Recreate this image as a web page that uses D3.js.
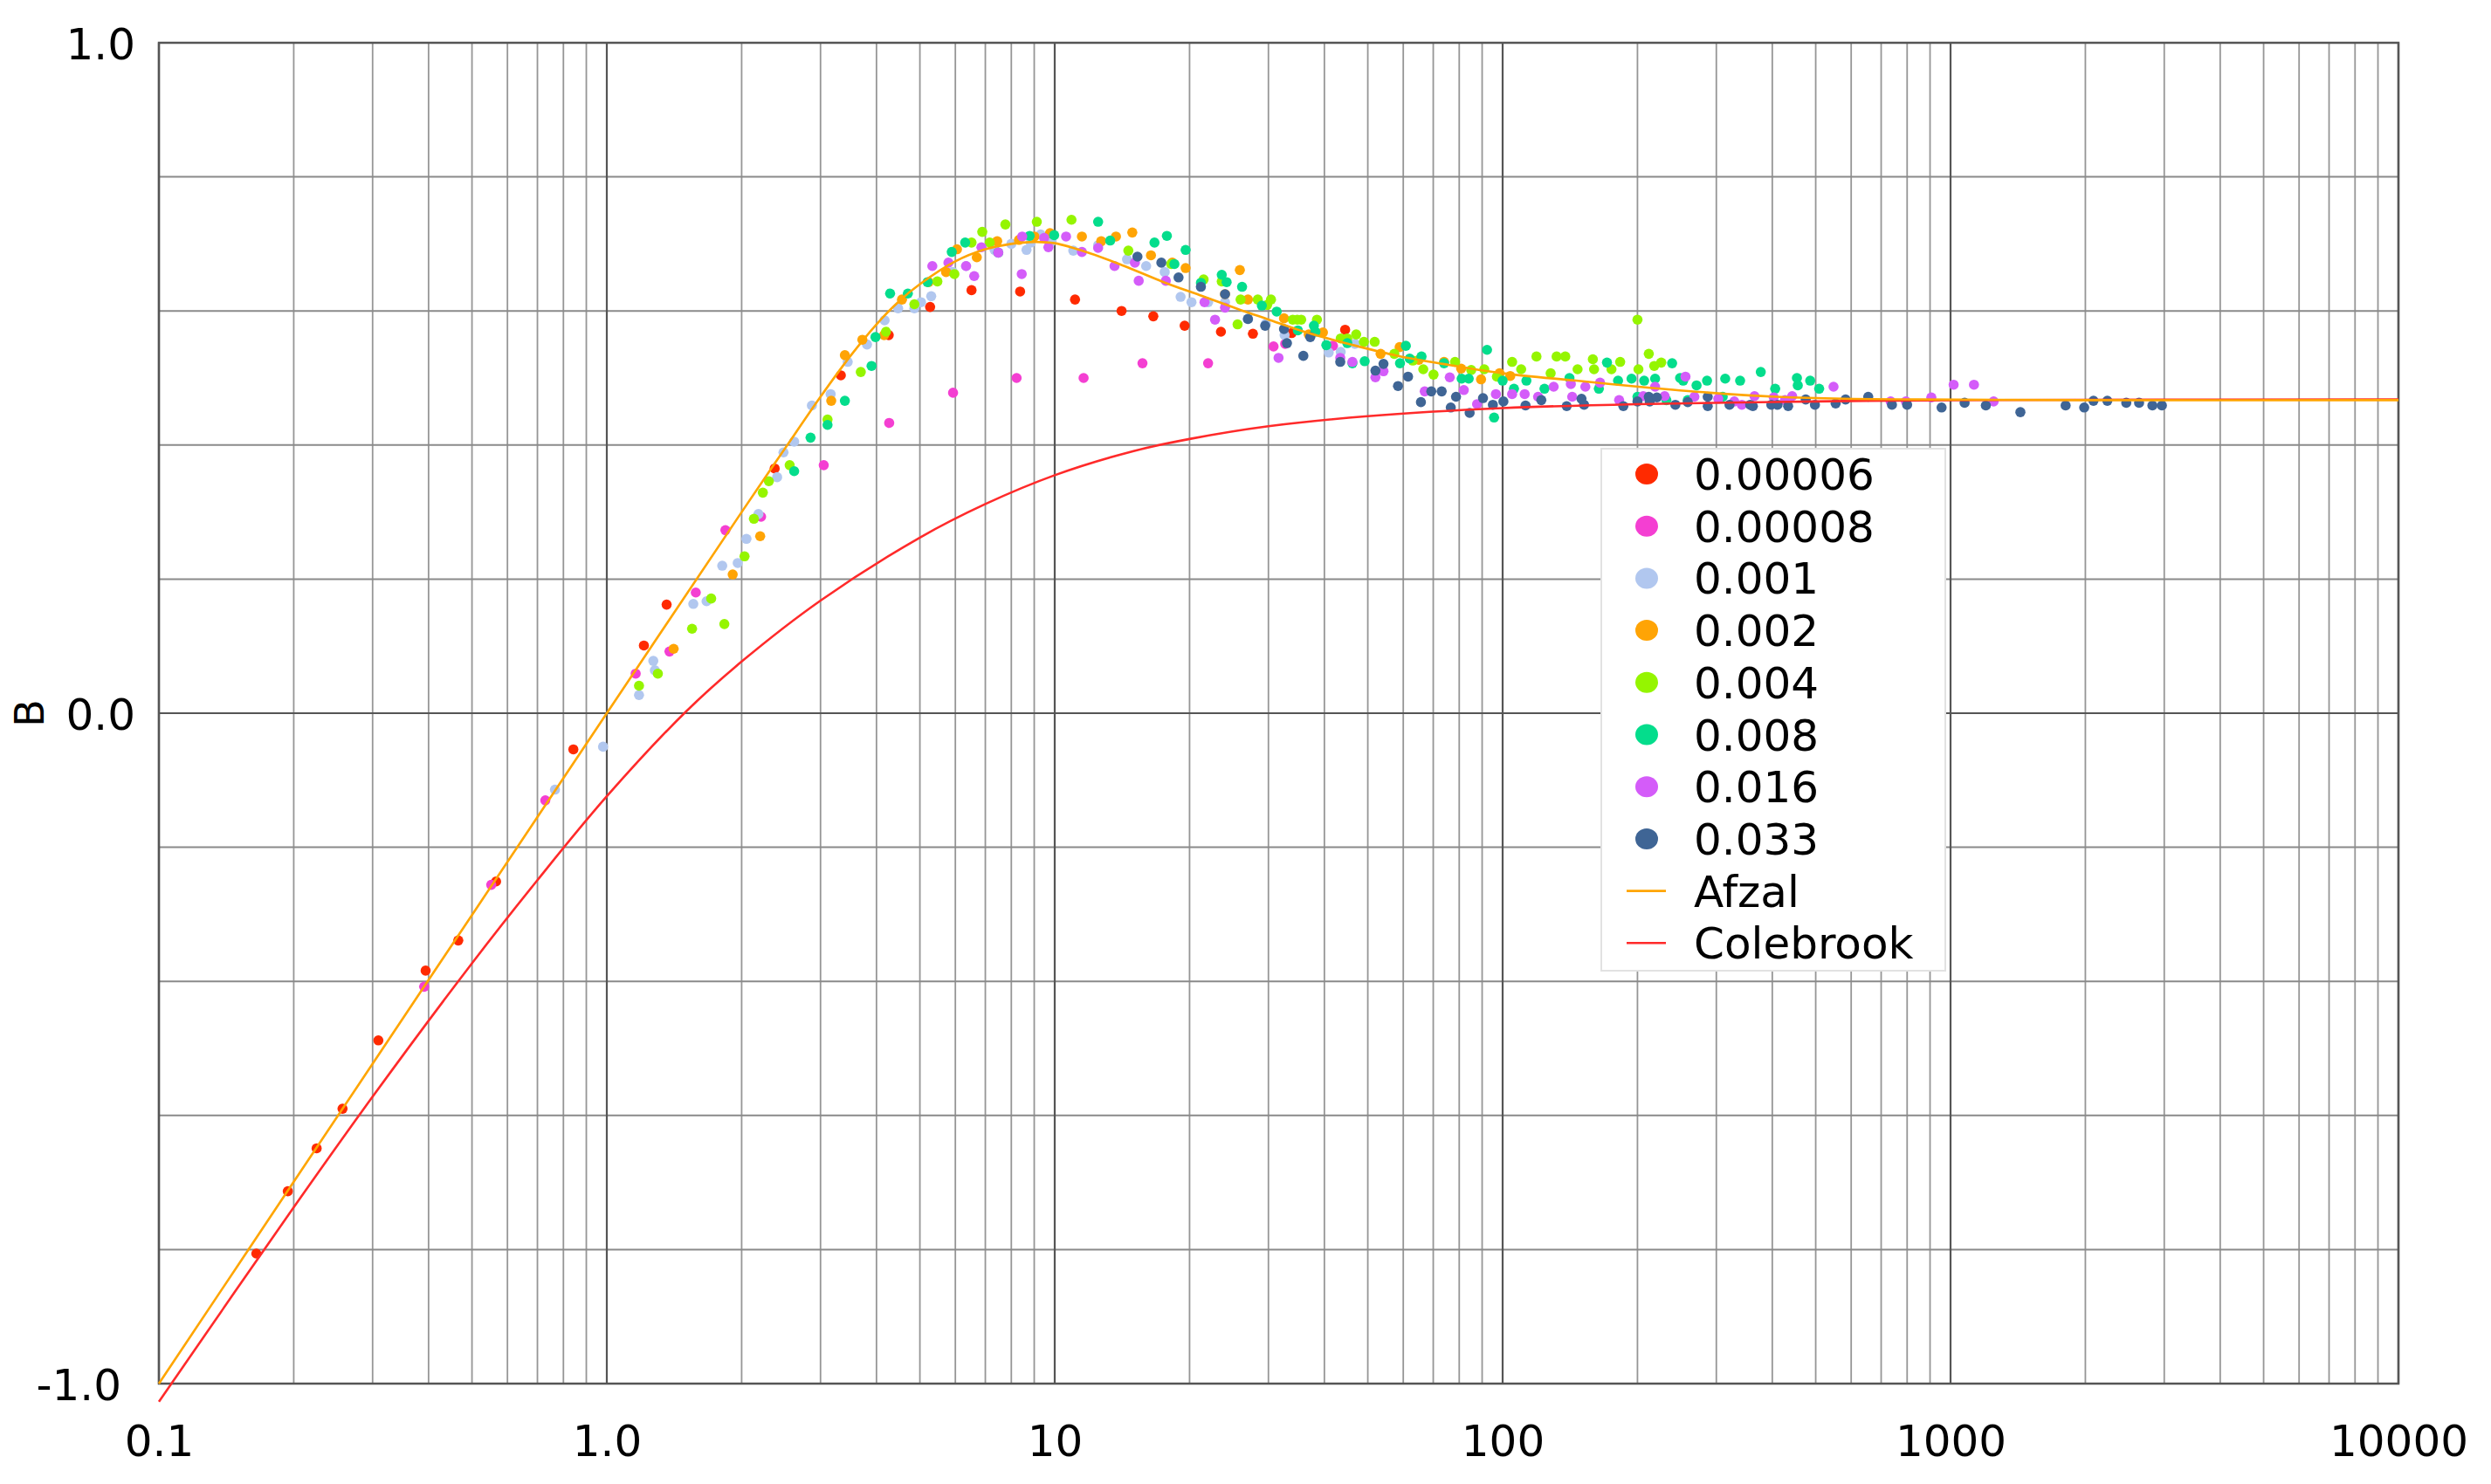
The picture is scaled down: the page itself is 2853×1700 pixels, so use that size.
<!DOCTYPE html>
<html>
<head>
<meta charset="utf-8">
<script src="https://cdn.jsdelivr.net/npm/d3@7"></script>
<style>
  html, body { margin: 0; padding: 0; background: #fff; }
  svg { display: block; }
  text { font-family: "DejaVu Sans", sans-serif; fill: #000; }
</style>
</head>
<body>
<svg id="chart" width="2853" height="1700"></svg>
<script>
// ---------- data ----------
const xTickValues = [0.1, 1, 10, 100, 1000, 10000];
const xTickLabels = ["0.1", "1.0", "10", "100", "1000", "10000"];
const yTickValues = [-1, 0, 1];
const yTickLabels = ["-1.0", "0.0", "1.0"];
const yGridValues = [-1, -0.8, -0.6, -0.4, -0.2, 0, 0.2, 0.4, 0.6, 0.8, 1];
const yAxisTitle = "B";

const seriesNames = ["0.00006", "0.00008", "0.001", "0.002", "0.004", "0.008", "0.016", "0.033"];
const seriesColors = ["#ff2a00", "#f43fd2", "#b1c7ef", "#ffa405", "#95f500", "#04dd8c", "#d45cf9", "#3f6595"];

const s00006 = [[0.165,-0.806],[0.194,-0.713],[0.225,-0.649],[0.257,-0.590],[0.309,-0.488],[0.394,-0.384],[0.466,-0.339],[0.566,-0.251],[0.842,-0.054],[1.21,0.101],[1.36,0.162],[2.37,0.365],[3.33,0.504],[4.26,0.564],[5.27,0.606],[6.52,0.631],[8.37,0.629],[11.1,0.617],[14.1,0.600],[16.6,0.592],[19.5,0.578],[23.5,0.569],[27.7,0.566],[33.8,0.567],[44.5,0.572]];
const s00008 = [[0.391,-0.408],[0.552,-0.256],[0.729,-0.130],[1.16,0.059],[1.38,0.092],[1.58,0.180],[1.84,0.273],[2.21,0.293],[3.05,0.370],[4.27,0.433],[5.93,0.478],[8.22,0.500],[11.6,0.500],[15.7,0.522],[22.0,0.522],[30.8,0.547],[32.7,0.551],[41.8,0.548]];
const s001 = [[0.766,-0.114],[0.981,-0.050],[1.18,0.027],[1.28,0.064],[1.27,0.078],[1.56,0.163],[1.67,0.167],[1.81,0.220],[1.96,0.224],[2.05,0.260],[2.18,0.297],[2.40,0.352],[2.48,0.389],[2.62,0.405],[2.87,0.459],[3.16,0.476],[3.45,0.524],[3.81,0.550],[4.17,0.586],[4.47,0.604],[4.86,0.604],[5.03,0.613],[5.30,0.622],[5.92,0.658],[6.34,0.667],[7.34,0.691],[8.0,0.700],[8.65,0.691],[8.84,0.702],[9.30,0.714],[9.84,0.704],[11.0,0.690],[12.5,0.698],[14.5,0.677],[16.0,0.667],[17.6,0.658],[19.1,0.621],[20.2,0.613],[22.0,0.613],[24.0,0.613],[27.0,0.588],[29.6,0.581],[32.6,0.564],[40.9,0.538],[43.5,0.539],[46.8,0.551]];
const s002 = [[1.41,0.096],[1.91,0.207],[2.20,0.264],[3.17,0.466],[3.40,0.534],[3.72,0.557],[4.16,0.564],[4.56,0.617],[5.23,0.643],[5.72,0.658],[6.05,0.692],[6.70,0.680],[7.44,0.704],[8.32,0.706],[9.01,0.711],[9.76,0.716],[11.5,0.711],[12.7,0.704],[13.7,0.711],[14.9,0.717],[16.4,0.683],[18.3,0.672],[19.6,0.664],[24.0,0.625],[25.9,0.661],[27.0,0.617],[32.5,0.589],[36.9,0.565],[39.7,0.568],[53.4,0.536],[58.9,0.546],[65.0,0.527],[74.0,0.524],[80.8,0.514],[89.5,0.498],[98.4,0.507],[104,0.503]];
const s004 = [[1.18,0.041],[1.30,0.059],[1.55,0.126],[1.71,0.171],[1.83,0.133],[2.03,0.234],[2.13,0.290],[2.23,0.329],[2.30,0.346],[2.56,0.370],[3.11,0.438],[3.69,0.509],[4.20,0.569],[4.86,0.610],[5.47,0.644],[5.97,0.655],[6.52,0.702],[6.89,0.718],[7.16,0.702],[7.76,0.729],[9.12,0.733],[10.9,0.736],[14.6,0.690],[18.2,0.670],[21.5,0.647],[23.6,0.644],[25.6,0.580],[26.0,0.617],[28.4,0.617],[29.8,0.609],[30.4,0.617],[34.0,0.587],[34.8,0.587],[35.5,0.587],[38.5,0.587],[43.5,0.559],[45.0,0.559],[47.1,0.565],[49.0,0.554],[51.8,0.554],[57.3,0.536],[63.0,0.526],[66.5,0.513],[70.1,0.505],[78.3,0.524],[85.1,0.512],[91.0,0.513],[97.1,0.502],[105,0.524],[110,0.513],[119,0.532],[128,0.507],[132,0.532],[138,0.532],[147,0.513],[159,0.528],[160,0.513],[175,0.513],[183,0.524],[200,0.587],[201,0.513],[212,0.536],[218,0.518],[226,0.523]];
const s008 = [[2.62,0.361],[2.85,0.411],[3.11,0.430],[3.40,0.466],[3.90,0.518],[3.98,0.561],[4.29,0.626],[4.70,0.626],[5.20,0.643],[5.89,0.688],[6.31,0.702],[7.48,0.687],[8.79,0.712],[9.97,0.713],[12.5,0.733],[13.3,0.705],[16.7,0.702],[17.8,0.712],[18.5,0.670],[19.6,0.691],[21.2,0.642],[23.6,0.654],[24.2,0.643],[26.2,0.636],[29.0,0.608],[31.3,0.599],[34.9,0.571],[37.9,0.578],[38.2,0.569],[40.4,0.549],[45.0,0.552],[46.2,0.522],[49.2,0.525],[59.0,0.522],[60.8,0.548],[62.0,0.529],[65.9,0.532],[74.0,0.522],[81.0,0.499],[84.0,0.499],[92.3,0.542],[95.7,0.441],[100,0.496],[106,0.484],[113,0.496],[124,0.484],[141,0.500],[164,0.484],[171,0.523],[181,0.496],[194,0.499],[200,0.472],[207,0.496],[219,0.499],[232,0.467],[239,0.522],[249,0.500],[253,0.496],[259,0.467],[271,0.489],[286,0.496],[310,0.472],[314,0.499],[339,0.496],[377,0.509],[406,0.484],[454,0.500],[456,0.489],[486,0.496],[509,0.484]];
const s016 = [[5.33,0.667],[5.79,0.672],[6.34,0.667],[6.61,0.652],[6.86,0.695],[7.48,0.687],[8.46,0.711],[8.44,0.655],[9.47,0.709],[9.68,0.695],[10.6,0.711],[11.5,0.688],[12.5,0.694],[13.6,0.667],[15.1,0.672],[15.4,0.645],[17.7,0.645],[21.6,0.613],[22.8,0.587],[24.0,0.605],[31.6,0.530],[43.4,0.530],[46.2,0.524],[52.0,0.501],[54.2,0.510],[67.0,0.480],[76.2,0.501],[81.9,0.482],[87.7,0.461],[96.6,0.476],[105,0.476],[112,0.476],[120,0.472],[130,0.487],[142,0.491],[143,0.472],[153,0.487],[165,0.493],[182,0.467],[206,0.473],[219,0.487],[230,0.473],[256,0.502],[268,0.472],[303,0.469],[329,0.465],[342,0.460],[365,0.473],[403,0.471],[427,0.467],[443,0.473],[548,0.487],[735,0.465],[795,0.465],[906,0.471],[1016,0.490],[1128,0.490],[1248,0.465]];
const s033 = [[15.3,0.681],[17.3,0.672],[18.9,0.650],[21.2,0.636],[24.0,0.625],[27.0,0.588],[29.5,0.578],[32.5,0.573],[33.0,0.552],[35.9,0.533],[37.2,0.561],[43.4,0.524],[52.0,0.511],[54.2,0.521],[58.4,0.488],[61.5,0.502],[65.7,0.464],[69.3,0.480],[73.1,0.480],[76.6,0.456],[78.7,0.472],[84.4,0.448],[90.4,0.470],[95.1,0.460],[100.4,0.465],[112.5,0.459],[122,0.467],[139,0.458],[150,0.469],[152,0.460],[186,0.458],[200,0.465],[212,0.472],[213,0.465],[221,0.471],[243,0.460],[259,0.464],[287,0.472],[287,0.458],[321,0.460],[357,0.460],[362,0.458],[398,0.460],[411,0.460],[434,0.458],[475,0.468],[498,0.460],[554,0.462],[583,0.468],[655,0.472],[740,0.460],[800,0.460],[955,0.456],[1075,0.463],[1199,0.459],[1432,0.449],[1807,0.459],[1988,0.456],[2085,0.466],[2239,0.466],[2468,0.463],[2636,0.463],[2823,0.459],[2964,0.459]];
const seriesData = [s00006, s00008, s001, s002, s004, s008, s016, s033];

const lineNames = ["Afzal", "Colebrook"];
const lineColors = ["#ffa500", "#ff2a2a"];
const afzalCurve = [[0.1,-1.0],[0.2,-0.699],[0.5,-0.301],[1.0,0.0],[2.0,0.300],[2.5,0.395],[3.0,0.472],[3.5,0.533],[4.0,0.580],[4.5,0.615],[5.0,0.640],[6.0,0.674],[7.0,0.692],[8.0,0.700],[9.0,0.703],[10,0.701],[12,0.686],[14.3,0.667],[17.5,0.643],[21.4,0.622],[26.1,0.601],[29.8,0.588],[36.9,0.567],[46.4,0.549],[58.4,0.533],[73.5,0.521],[100,0.507],[146,0.496],[201,0.487],[290,0.478],[409,0.472],[577,0.469],[847,0.468],[2000,0.467],[10000,0.467]];
const colebrookCurve = [[0.1,-1.027],[0.2,-0.737],[0.3,-0.572],[0.5,-0.373],[0.7,-0.249],[1.0,-0.124],[1.5,0.002],[2.0,0.077],[3.0,0.168],[5.0,0.262],[7.0,0.312],[10,0.355],[15,0.391],[20,0.409],[30,0.428],[50,0.443],[100,0.455],[200,0.461],[500,0.465],[1000,0.467],[10000,0.468]];

// ---------- layout ----------
const plot = {left: 182, right: 2747, top: 49, bottom: 1585};
const svg = d3.select("#chart");

const x = d3.scaleLog().domain([0.1, 10000]).range([plot.left, plot.right]);
const y = d3.scaleLinear().domain([-1, 1]).range([plot.bottom, plot.top]);

// ---------- grid ----------
const grid = svg.append("g");
const minorX = [];
[0.1, 1, 10, 100, 1000].forEach(d => { for (let k = 2; k <= 9; k++) minorX.push(d * k); });
grid.selectAll("line.minx").data(minorX).enter().append("line")
  .attr("x1", d => x(d)).attr("x2", d => x(d))
  .attr("y1", plot.top).attr("y2", plot.bottom)
  .attr("stroke", "#969696").attr("stroke-width", 1.8);
grid.selectAll("line.gy").data(yGridValues).enter().append("line")
  .attr("x1", plot.left).attr("x2", plot.right)
  .attr("y1", d => y(d)).attr("y2", d => y(d))
  .attr("stroke", d => (d === 0 ? "#555" : "#8a8a8a")).attr("stroke-width", 2);
grid.selectAll("line.majx").data(xTickValues).enter().append("line")
  .attr("x1", d => x(d)).attr("x2", d => x(d))
  .attr("y1", plot.top).attr("y2", plot.bottom)
  .attr("stroke", "#555").attr("stroke-width", 2.2);
grid.append("rect")
  .attr("x", plot.left).attr("y", plot.top)
  .attr("width", plot.right - plot.left).attr("height", plot.bottom - plot.top)
  .attr("fill", "none").attr("stroke", "#555").attr("stroke-width", 2.5);

// ---------- axes ----------
const xAxis = d3.axisBottom(x).tickValues(xTickValues)
  .tickFormat((d, i) => xTickLabels[i]).tickSize(0).tickPadding(0);
const gx = svg.append("g").attr("transform", `translate(0,${plot.bottom})`).call(xAxis);
gx.select(".domain").remove();
gx.selectAll("text").attr("font-size", 50).attr("font-family", "DejaVu Sans")
  .attr("fill", "#000").attr("y", 83).attr("dy", 0);

const yAxis = d3.axisLeft(y).tickValues(yTickValues)
  .tickFormat((d, i) => yTickLabels[i]).tickSize(0).tickPadding(27);
const gy = svg.append("g").attr("transform", `translate(${plot.left},0)`).call(yAxis);
gy.select(".domain").remove();
gy.selectAll("text").attr("font-size", 50).attr("font-family", "DejaVu Sans")
  .attr("fill", "#000").attr("dy", "0.36em")
  .attr("dx", (d, i) => (yTickLabels[i].startsWith("-") ? -16 : 0));

svg.append("text").text(yAxisTitle)
  .attr("transform", `translate(50,${y(0)}) rotate(-90)`)
  .attr("text-anchor", "middle").attr("font-size", 46);

// ---------- points ----------
const pts = svg.append("g");
seriesData.forEach((data, i) => {
  pts.append("g").selectAll("circle").data(data).enter().append("circle")
    .attr("cx", d => x(d[0])).attr("cy", d => y(d[1])).attr("r", 5.8)
    .attr("fill", seriesColors[i]);
});

// ---------- curves ----------
const lineGen = d3.line().x(d => x(d[0])).y(d => y(d[1])).curve(d3.curveCatmullRom.alpha(0.5));
svg.append("path").datum(colebrookCurve).attr("d", lineGen)
  .attr("fill", "none").attr("stroke", lineColors[1]).attr("stroke-width", 2.6);
svg.append("path").datum(afzalCurve).attr("d", lineGen)
  .attr("fill", "none").attr("stroke", lineColors[0]).attr("stroke-width", 2.6);

// ---------- legend ----------
const leg = svg.append("g");
leg.append("rect").attr("x", 1834).attr("y", 514).attr("width", 394).attr("height", 598)
  .attr("fill", "#fff").attr("stroke", "#e2e2e2").attr("stroke-width", 2);
const rowY = i => 543 + i * 59.7;
seriesNames.forEach((name, i) => {
  leg.append("ellipse").attr("cx", 1886).attr("cy", rowY(i)).attr("rx", 13).attr("ry", 12)
    .attr("fill", seriesColors[i]);
  leg.append("text").text(name).attr("x", 1940).attr("y", rowY(i)).attr("dy", "0.36em")
    .attr("font-size", 50);
});
lineNames.forEach((name, j) => {
  const i = seriesNames.length + j;
  leg.append("line").attr("x1", 1863).attr("x2", 1908).attr("y1", rowY(i)).attr("y2", rowY(i))
    .attr("stroke", lineColors[j]).attr("stroke-width", 2.6);
  leg.append("text").text(name).attr("x", 1940).attr("y", rowY(i)).attr("dy", "0.36em")
    .attr("font-size", 50);
});
</script>
</body>
</html>
